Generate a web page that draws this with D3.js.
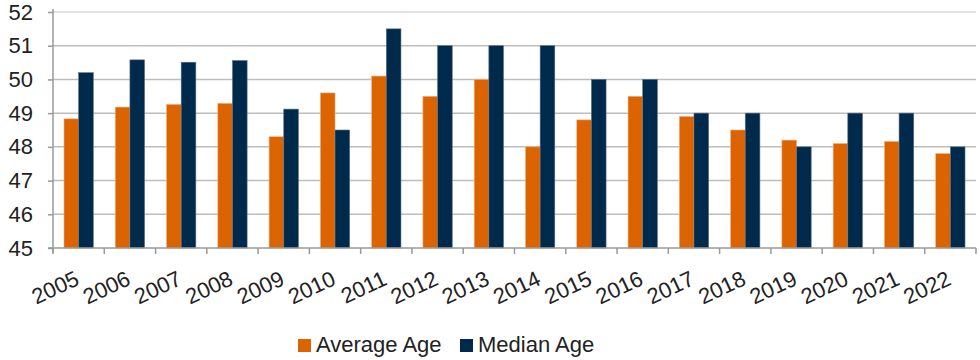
<!DOCTYPE html>
<html>
<head>
<meta charset="utf-8">
<script src="https://cdn.jsdelivr.net/npm/d3@7"></script>
<style>
  body { margin: 0; background: #fff; }
  svg text { font-family: "Liberation Sans", Arial, sans-serif; fill: #222; }
</style>
</head>
<body>
<svg id="chart" width="980" height="360"></svg>
<script>
// data
let years = ['2005','2006','2007','2008','2009','2010','2011','2012','2013','2014','2015','2016','2017','2018','2019','2020','2021','2022']
let averageAge = [48.83, 49.18, 49.26, 49.29, 48.3, 49.6, 50.1, 49.5, 50, 48, 48.8, 49.5, 48.9, 48.5, 48.2, 48.1, 48.16, 47.8]
let medianAge = [50.2, 50.58, 50.51, 50.56, 49.12, 48.5, 51.5, 51, 51, 51, 50, 50, 49, 49, 48, 49, 49, 48]
let yTicks = [45, 46, 47, 48, 49, 50, 51, 52]
let seriesNames = ['Average Age', 'Median Age']
let colors = ['#DB6400', '#002A4C']

let svg = d3.select('#chart')
let plotLeft = 53, plotRight = 976, plotTop = 12, plotBottom = 248

let x = d3.scaleBand().domain(years).range([plotLeft, plotRight]).paddingInner(0).paddingOuter(0)
let x1 = d3.scaleBand().domain(seriesNames).range([0, x.bandwidth()]).paddingInner(0).paddingOuter(0.75)
let y = d3.scaleLinear().domain([45, 52]).range([plotBottom, plotTop])

// gridlines
svg.append('g')
    .selectAll('line')
    .data(yTicks.slice(1))
    .enter()
    .append('line')
    .attr('x1', plotLeft)
    .attr('x2', plotRight)
    .attr('y1', d => y(d))
    .attr('y2', d => y(d))
    .attr('stroke', d => d === 52 ? '#d9d9d9' : '#bdbdbd')
    .attr('stroke-width', 1.5)

// bars
let groups = svg.append('g')
    .selectAll('g')
    .data(years)
    .enter()
    .append('g')
    .attr('transform', d => 'translate(' + x(d) + ',0)')

groups.selectAll('rect')
    .data((d, i) => [averageAge[i], medianAge[i]].map((v, j) => ({ key: seriesNames[j], value: v, c: colors[j] })))
    .enter()
    .append('rect')
    .attr('x', d => x1(d.key))
    .attr('width', x1.bandwidth())
    .attr('y', d => y(d.value))
    .attr('height', d => y(45) - y(d.value))
    .attr('fill', d => d.c)
    .attr('stroke', d => d.key === 'Median Age' ? '#5a6f85' : '#f0b080')
    .attr('stroke-width', 0.6)

// y axis
let yAxis = svg.append('g')
    .attr('transform', 'translate(' + plotLeft + ',0)')
    .call(d3.axisLeft(y).tickValues(yTicks).tickFormat(d3.format('d')).tickSize(5).tickPadding(15))
yAxis.select('.domain').attr('stroke', '#999').attr('stroke-width', 1.5).attr('d', 'M0,' + (plotTop - 3) + 'V' + (plotBottom + 5))
yAxis.selectAll('.tick line').attr('stroke', '#999').attr('stroke-width', 1.5)
yAxis.selectAll('text').style('font-size', '22px').attr('fill', '#222')

// x axis
let xAxis = svg.append('g')
    .attr('transform', 'translate(0,' + plotBottom + ')')
    .call(d3.axisBottom(x).tickSize(0).tickPadding(0))
xAxis.select('.domain').attr('stroke', '#999').attr('stroke-width', 1.5).attr('d', 'M' + (plotLeft - 5) + ',0H' + plotRight)
xAxis.selectAll('.tick line').remove()
xAxis.selectAll('.tick text')
    .style('font-size', '22px')
    .attr('fill', '#222')
    .attr('text-anchor', 'end')
    .attr('dy', 0)
    .attr('transform', 'translate(2,36) rotate(-25)')

// boundary tick marks between categories
svg.append('g')
    .selectAll('line')
    .data(years.concat(['end']))
    .enter()
    .append('line')
    .attr('x1', (d, i) => i < years.length ? x(d) : plotRight)
    .attr('x2', (d, i) => i < years.length ? x(d) : plotRight)
    .attr('y1', plotBottom)
    .attr('y2', plotBottom + 6)
    .attr('stroke', '#999')
    .attr('stroke-width', 1.5)

// legend
let legend = svg.append('g').attr('transform', 'translate(298,339)')
let legendX = [0, 162]
seriesNames.forEach((name, i) => {
    legend.append('rect')
        .attr('x', legendX[i])
        .attr('y', 0)
        .attr('width', 13)
        .attr('height', 13)
        .attr('fill', colors[i])
    legend.append('text')
        .attr('x', legendX[i] + 18)
        .attr('y', 13)
        .style('font-size', '22px')
        .text(name)
})
</script>
</body>
</html>
